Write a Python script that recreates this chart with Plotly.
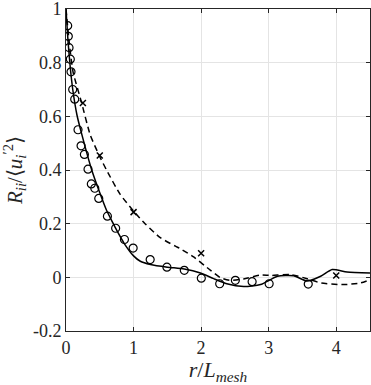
import plotly.graph_objects as go

# solid line (model 1)
r_solid = [0, 0.03, 0.064, 0.1, 0.163, 0.237, 0.381, 0.5, 0.6, 0.7, 0.732, 0.865, 1.0, 1.1,
           1.25, 1.5, 1.75, 1.99, 2.185, 2.38, 2.63, 2.88, 3.13, 3.37, 3.57, 3.77, 3.94, 4.16, 4.5]
R_solid = [1.0, 0.88, 0.78, 0.70, 0.604, 0.53, 0.40, 0.315, 0.25, 0.20, 0.184, 0.125, 0.08, 0.06,
           0.048, 0.038, 0.031, 0.016, -0.005, -0.024, -0.034, -0.027, 0.004, 0.006, -0.014,
           0.004, 0.029, 0.020, 0.016]

# dashed line (model 2)
r_dash = [0, 0.05, 0.104, 0.227, 0.36, 0.49, 0.6, 0.8, 1.0, 1.17, 1.395, 1.62, 1.69, 1.89,
          2.14, 2.285, 2.43, 2.63, 2.88, 3.03, 3.32, 3.57, 3.77, 4.11, 4.36, 4.5]
R_dash = [1.0, 0.87, 0.766, 0.654, 0.53, 0.455, 0.40, 0.31, 0.247, 0.20, 0.148, 0.116, 0.107,
          0.076, 0.026, -0.001, -0.011, -0.006, 0.009, 0.007, 0.010, -0.005, -0.021, -0.027,
          -0.021, -0.009]

# circles (measurements)
r_circ = [0.025, 0.034, 0.045, 0.064, 0.074, 0.099, 0.129, 0.178, 0.223, 0.272, 0.326, 0.375,
          0.426, 0.485, 0.613, 0.735, 0.865, 0.994, 1.246, 1.494, 1.751, 2.003, 2.275, 2.507,
          2.755, 3.007, 3.586]
R_circ = [0.938, 0.898, 0.856, 0.813, 0.766, 0.700, 0.664, 0.550, 0.490, 0.458, 0.403, 0.348,
          0.332, 0.294, 0.228, 0.183, 0.141, 0.109, 0.066, 0.038, 0.026, -0.003, -0.024, -0.011,
          -0.016, -0.024, -0.025]

# crosses
r_cross = [0.25, 0.5, 1, 2, 4]
R_cross = [0.65, 0.454, 0.243, 0.09, 0.007]

ink = '#262626'
fnt = 'Liberation Serif, serif'

fig = go.Figure()
fig.add_trace(go.Scatter(x=r_solid, y=R_solid, mode='lines', line=dict(color='black', width=1.5, shape='spline', smoothing=0.6)))
fig.add_trace(go.Scatter(x=r_dash, y=R_dash, mode='lines', line=dict(color='black', width=1.5, dash='6px,4px', shape='spline', smoothing=0.6)))
fig.add_trace(go.Scatter(x=r_circ, y=R_circ, mode='markers',
                         marker=dict(symbol='circle-open', size=8, color='black', line=dict(width=1.2))))
fig.add_trace(go.Scatter(x=r_cross, y=R_cross, mode='markers',
                         marker=dict(symbol='x-thin-open', size=6, color='black', line=dict(width=1.5))))

ax = dict(showline=True, linecolor=ink, linewidth=1, mirror='allticks', ticks='inside', ticklen=4,
          tickcolor=ink, showgrid=True, gridcolor='#e4e4e4', gridwidth=1, zeroline=False,
          ticklabeloverflow='allow', tickfont=dict(family=fnt, size=18, color=ink))

fig.update_xaxes(ax, range=[0, 4.5], tickvals=[0, 1, 2, 3, 4], ticktext=['0', '1', '2', '3', '4'],
                 title=dict(text='<i>r</i>/<i>L</i><sub><i>mesh</i></sub>', font=dict(family=fnt, size=22, color=ink), standoff=2))
fig.update_yaxes(ax, range=[-0.2, 1], tickvals=[-0.2, 0, 0.2, 0.4, 0.6, 0.8, 1],
                 ticktext=['-0.2', '0', '0.2', '0.4', '0.6', '0.8', '1'],
                 title=dict(text='<i>R</i><sub><i>ii</i></sub>/⟨<i>u</i><sub><i>i</i></sub><sup>′2</sup>⟩',
                            font=dict(family=fnt, size=21, color=ink), standoff=4))

fig.update_layout(width=371, height=385, margin=dict(l=66, r=1, t=9, b=54, autoexpand=False), showlegend=False,
                  plot_bgcolor='white', paper_bgcolor='white')
# drop the browser's default body margin so the figure sits at the window's corner
fig.write_html("out.html", config={'displayModeBar': False},
               post_script="document.body.style.margin='0';")
